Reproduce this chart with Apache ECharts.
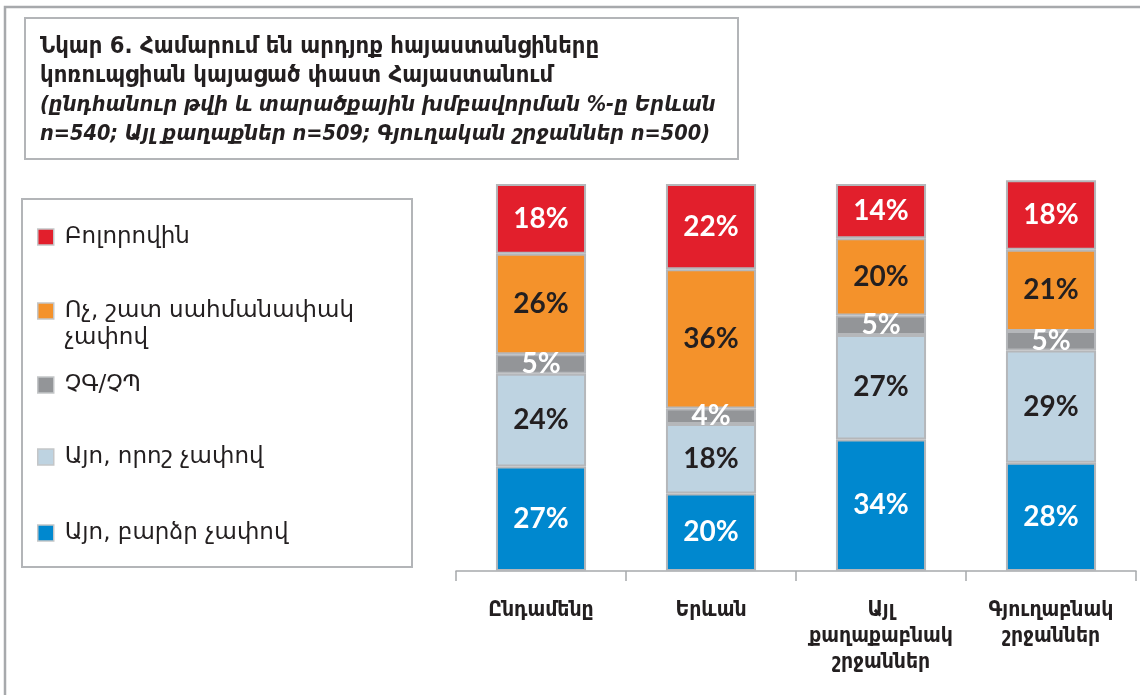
<!DOCTYPE html>
<html>
<head>
<meta charset="utf-8">
<script src="https://cdn.jsdelivr.net/npm/echarts@6/dist/echarts.min.js"></script>
<style>
html,body{margin:0;padding:0;background:#fff;}
#chart{width:1140px;height:695px;}
</style>
</head>
<body>
<div id="chart"></div>
<script>
// ---- data ----
const categories = ['Ընդամենը', 'Երևան', 'Այլ\nքաղաքաբնակ\nշրջաններ', 'Գյուղաբնակ\nշրջաններ'];
const seriesNames = ['Այո, բարձր չափով', 'Այո, որոշ չափով', 'ՉԳ/ՉՊ', 'Ոչ, շատ սահմանափակ չափով', 'Բոլորովին'];
const highDegree   = [27, 20, 34, 28];
const someDegree   = [24, 18, 27, 29];
const dontKnow     = [5, 4, 5, 5];
const veryLimited  = [26, 36, 20, 21];
const notAtAll     = [18, 22, 14, 18];
const titleLines = ['Նկար 6. Համարում են արդյոք հայաստանցիները', 'կոռուպցիան կայացած փաստ Հայաստանում'];
const subtitleLines = ['(ընդհանուր թվի և տարածքային խմբավորման %-ը Երևան', 'n=540; Այլ քաղաքներ n=509; Գյուղական շրջաններ n=500)'];

const colors = ['#0088CF', '#BED3E1', '#939598', '#F4922B', '#E21F2C'];
const labelColors = ['#ffffff', '#231F20', '#ffffff', '#231F20', '#ffffff'];
const values = [highDegree, someDegree, dontKnow, veryLimited, notAtAll];

const chart = echarts.init(document.getElementById('chart'), null, {renderer: 'canvas'});

const series = values.map((arr, i) => ({
  name: seriesNames[i],
  type: 'bar',
  stack: 'total',
  barWidth: '53%',
  clip: false,
  data: arr,
  itemStyle: {color: colors[i], borderColor: '#B5B7BA', borderWidth: 2},
  label: {
    show: true,
    position: 'inside',
    formatter: p => p.value + '%',
    color: labelColors[i],
    fontFamily: 'Lato',
    fontWeight: 'bold',
    fontSize: 28
  },
  emphasis: {disabled: true}
}));

// legend items, top to bottom
const legendCenters = [237, 311, 385, 457, 533];
const legendOrder = [4, 3, 2, 1, 0];
const LH = 27;
const legends = legendOrder.map((si, k) => {
  const multi = seriesNames[si] === 'Ոչ, շատ սահմանափակ չափով';
  return {
    left: 37,
    top: legendCenters[k] - (multi ? 1.5 * LH : 0.5 * LH),
    padding: 0,
    orient: 'vertical',
    itemWidth: 16,
    itemHeight: 16,
    icon: 'rect',
    selectedMode: false,
    data: [seriesNames[si]],
    itemStyle: {borderColor: '#C4C6C8', borderWidth: 1.5},
    formatter: name => multi ? ' \nՈչ, շատ սահմանափակ\nչափով' : name,
    textStyle: {
      fontFamily: 'DejaVu Sans',
      fontSize: 23,
      color: '#231F20',
      lineHeight: LH,
      padding: [0, 0, 0, 6]
    }
  };
});

chart.setOption({
  animation: false,
  backgroundColor: '#ffffff',
  grid: {left: 456, right: 4, top: 184, bottom: 124, containLabel: false},
  xAxis: {
    type: 'category',
    data: categories,
    axisLine: {show: true, lineStyle: {color: '#A7A9AC', width: 1.5}},
    axisTick: {show: true, length: 10, lineStyle: {color: '#A7A9AC', width: 1.5}},
    axisLabel: {
      interval: 0,
      margin: 27,
      fontFamily: 'DejaVu Sans Condensed',
      fontWeight: 'bold',
      fontSize: 21,
      lineHeight: 26,
      color: '#231F20',
      verticalAlign: 'top'
    }
  },
  yAxis: {type: 'value', min: 0, max: 100, show: false},
  legend: legends,
  series: series,
  graphic: [
    {type: 'polyline', shape: {points: [[5, 696], [5, 7], [1141, 7]]}, style: {stroke: '#A7A9AC', lineWidth: 2.5, fill: null}, silent: true},
    {type: 'rect', shape: {x: 25, y: 18, width: 713, height: 141}, style: {stroke: '#B3B5B8', lineWidth: 2, fill: null}, silent: true},
    {type: 'rect', shape: {x: 22, y: 199, width: 390, height: 368}, style: {stroke: '#B3B5B8', lineWidth: 2, fill: null}, silent: true},
    {type: 'text', left: 40, top: 32, style: {text: titleLines.join('\n'), fontFamily: 'DejaVu Sans Condensed', fontWeight: 'bold', fontSize: 23.6, lineHeight: 29, fill: '#231F20'}, silent: true},
    {type: 'text', left: 40, top: 91, style: {text: subtitleLines.join('\n'), fontFamily: 'DejaVu Sans Condensed', fontWeight: 'bold', fontStyle: 'italic', fontSize: 21.5, lineHeight: 29, fill: '#231F20'}, silent: true}
  ]
});
</script>
</body>
</html>
